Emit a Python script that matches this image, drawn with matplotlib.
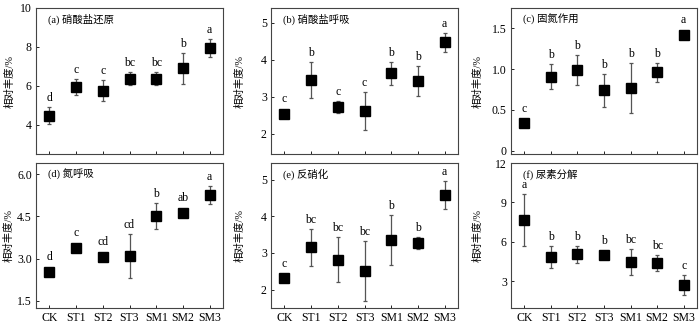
import numpy as np
import matplotlib.pyplot as plt

plt.rcParams['font.family'] = ['Liberation Serif', 'Noto Sans CJK SC']

groups = ['CK', 'ST1', 'ST2', 'ST3', 'SM1', 'SM2', 'SM3']

# (a) nitrate reduction
a_val = [4.47, 5.94, 5.76, 6.37, 6.37, 6.90, 7.93]
a_err = [0.45, 0.40, 0.55, 0.33, 0.33, 0.78, 0.47]
a_let = ['d', 'c', 'c', 'bc', 'bc', 'b', 'a']

# (b) nitrate respiration
b_val = [2.54, 3.45, 2.73, 2.62, 3.63, 3.43, 4.47]
b_err = [0.04, 0.48, 0.16, 0.52, 0.30, 0.40, 0.25]
b_let = ['c', 'b', 'c', 'c', 'b', 'b', 'a']

# (c) nitrogen fixation
c_val = [0.34, 0.91, 0.99, 0.74, 0.77, 0.96, 1.42]
c_err = [0.02, 0.15, 0.18, 0.20, 0.31, 0.12, 0.02]
c_let = ['c', 'b', 'b', 'b', 'b', 'b', 'a']

# (d) nitrogen respiration
d_val = [2.53, 3.39, 3.07, 3.10, 4.51, 4.63, 5.27]
d_err = [0.05, 0.05, 0.05, 0.77, 0.46, 0.08, 0.33]
d_let = ['d', 'c', 'cd', 'cd', 'b', 'ab', 'a']

# (e) denitrification
e_val = [2.31, 3.15, 2.82, 2.51, 3.35, 3.27, 4.58]
e_err = [0.05, 0.50, 0.62, 0.81, 0.69, 0.16, 0.37]
e_let = ['c', 'bc', 'bc', 'bc', 'b', 'b', 'a']

# (f) ureolysis
f_val = [7.66, 4.84, 5.04, 4.97, 4.46, 4.38, 2.72]
f_err = [1.97, 0.87, 0.65, 0.10, 1.02, 0.60, 0.77]
f_let = ['a', 'b', 'b', 'b', 'bc', 'bc', 'c']

titles = ['(a) 硝酸盐还原', '(b) 硝酸盐呼吸', '(c) 固氮作用',
          '(d) 氮呼吸', '(e) 反硝化', '(f) 尿素分解']
vals = [a_val, b_val, c_val, d_val, e_val, f_val]
errs = [a_err, b_err, c_err, d_err, e_err, f_err]
lets = [a_let, b_let, c_let, d_let, e_let, f_let]
ylims = [(2.5, 10), (1.45, 5.4), (-0.04, 1.75), (1.25, 6.4), (1.5, 5.45), (0.95, 12)]
yticks = [[4, 6, 8, 10], [2, 3, 4, 5], [0, 0.5, 1.0, 1.5],
          [1.5, 3.0, 4.5, 6.0], [2, 3, 4, 5], [3, 6, 9, 12]]
ytl = [['4', '6', '8', '10'], ['2', '3', '4', '5'], ['0', '0.5', '1.0', '1.5'],
       ['1.5', '3.0', '4.5', '6.0'], ['2', '3', '4', '5'], ['3', '6', '9', '12']]
ylab_x = [-0.115, -0.14, -0.15, -0.12, -0.14, -0.155]

fig = plt.figure(figsize=(7, 3.25), dpi=100)
lefts = [36, 271, 511]
widths = [187, 187, 186]
tops = [8, 163]
heights = [146, 145]

x = np.arange(len(groups))
for i in range(6):
    r, c = divmod(i, 3)
    ax = fig.add_axes([lefts[c] / 700, 1 - (tops[r] + heights[r]) / 325,
                       widths[c] / 700, heights[r] / 325])
    ax.errorbar(x, vals[i], yerr=errs[i], fmt='s', color='black', ms=7.5,
                ecolor='#555555', elinewidth=0.9, capsize=1.5, capthick=0.9)
    # letters sit a few pixels above the error bar (or the marker if the bar is short)
    pxu = heights[r] / (ylims[i][1] - ylims[i][0])
    for xi, v, e, l in zip(x, vals[i], errs[i], lets[i]):
        off = (max(e * pxu, 5.5) + 3) * 0.72
        ax.annotate(l, (xi, v), xytext=(0, off), textcoords='offset points',
                    ha='center', va='bottom', fontsize=8.5)
    ax.set_xlim(-0.5, 6.5)
    ax.set_ylim(*ylims[i])
    ax.set_yticks(yticks[i])
    ax.set_yticklabels(ytl[i])
    ax.set_xticks(x)
    if r == 1:
        ax.set_xticklabels(groups)
    else:
        ax.set_xticklabels([])
    ax.tick_params(direction='in', length=2, width=0.6, labelsize=8.5, pad=3)
    for s in ax.spines.values():
        s.set_color('#444444')
        s.set_linewidth(0.8)
    ax.text(0.065, 0.92, titles[i], transform=ax.transAxes, fontsize=7.5,
            va='center', ha='left')
    ax.set_ylabel('相对丰度/%', fontsize=7.5)
    ax.yaxis.set_label_coords(ylab_x[i], 0.5)

fig.savefig('out.png', dpi=100)
